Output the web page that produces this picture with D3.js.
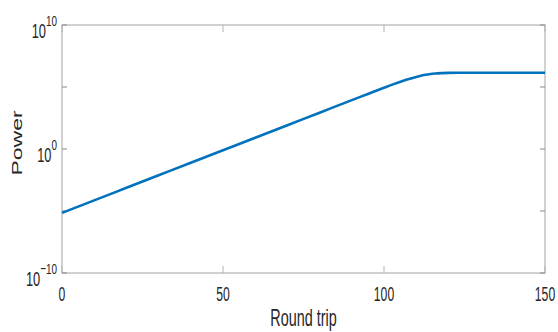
<!DOCTYPE html>
<html><head><meta charset="utf-8">
<script src="https://cdn.jsdelivr.net/npm/d3@7"></script>
<style>
html,body{margin:0;padding:0;background:#fff;}
svg{display:block;}
text{font-family:"Liberation Sans",Arial,sans-serif;fill:#262626;}
</style></head>
<body>
<svg id="chart" width="558" height="332"></svg>
<script>
// ---- data ----
const roundTrips = [0,10,20,30,40,50,60,70,80,90,95,100,103,106,108,110,112,114,116,118,120,125,130,140,150];
const powerValues = [7.1e-6,7.2e-5,7.4e-4,7.6e-3,7.8e-2,0.79,8.1,83,851,8710,27500,87100,1.7e5,3.16e5,4.57e5,6.46e5,8.7e5,1.07e6,1.23e6,1.32e6,1.38e6,1.41e6,1.41e6,1.41e6,1.41e6];
const xTicks = [0,50,100,150];
const xTickLabels = ["0","50","100","150"];
const yTicks = [1e-10,1e-5,1e0,1e5,1e10];
const yTickLabels = [{base:"10",exp:"-10",v:1e-10},{base:"10",exp:"0",v:1e0},{base:"10",exp:"10",v:1e10}];
const xLabel = "Round trip";
const yLabel = "Power";

const svg = d3.select("#chart");
const L=62,R=545,T=25,B=273;
const x = d3.scaleLinear().domain([0,150]).range([L,R]);
const y = d3.scaleLog().domain([1e-10,1e10]).range([B,T]);
const axisColor="#b3b3b3";
const sx=0.58;

// box
svg.append("rect").attr("x",L).attr("y",T).attr("width",R-L).attr("height",B-T)
  .attr("fill","none").attr("stroke",axisColor).attr("stroke-width",1.2);

// x ticks (bottom and top, inward)
const xt = 7;
xTicks.forEach(v=>{
  const px = x(v);
  svg.append("line").attr("x1",px).attr("x2",px).attr("y1",B).attr("y2",B-xt).attr("stroke",axisColor);
  svg.append("line").attr("x1",px).attr("x2",px).attr("y1",T).attr("y2",T+xt).attr("stroke",axisColor);
});
// y ticks (left and right, inward)
const yt = 5;
yTicks.forEach(v=>{
  const py = y(v);
  svg.append("line").attr("x1",L).attr("x2",L+yt).attr("y1",py).attr("y2",py).attr("stroke","#888");
  svg.append("line").attr("x1",R).attr("x2",R-yt).attr("y1",py).attr("y2",py).attr("stroke","#888");
});

// x tick labels
xTicks.forEach((v,i)=>{
  svg.append("g").attr("transform",`translate(${x(v)},300.5) scale(${sx},1)`)
    .append("text").attr("text-anchor","middle").attr("font-size",21).text(xTickLabels[i]);
});
// y tick labels
yTickLabels.forEach(d=>{
  const py = y(d.v);
  const g = svg.append("g").attr("transform",`translate(57,${py+13}) scale(0.64,1)`);
  const t = g.append("text").attr("text-anchor","end").attr("font-size",20);
  t.append("tspan").text(d.base);
  t.append("tspan").attr("font-size",15.5).attr("dy",-12).text(d.exp.replace("-","\u2212"));
});

// axis labels
svg.append("g").attr("transform",`translate(${(L+R)/2},326) scale(0.6,1)`)
  .append("text").attr("text-anchor","middle").attr("font-size",24).text(xLabel);
svg.append("g").attr("transform",`translate(21.5,${(T+B)/2-6}) rotate(-90) scale(1,0.6)`)
  .append("text").attr("text-anchor","middle").attr("font-size",23).text(yLabel);

// line
const line = d3.line().x((d,i)=>x(roundTrips[i])).y(d=>y(d)).curve(d3.curveMonotoneX);
svg.append("path").datum(powerValues).attr("d",line)
  .attr("fill","none").attr("stroke","#0072BD").attr("stroke-width",2.6);
</script>
</body></html>
